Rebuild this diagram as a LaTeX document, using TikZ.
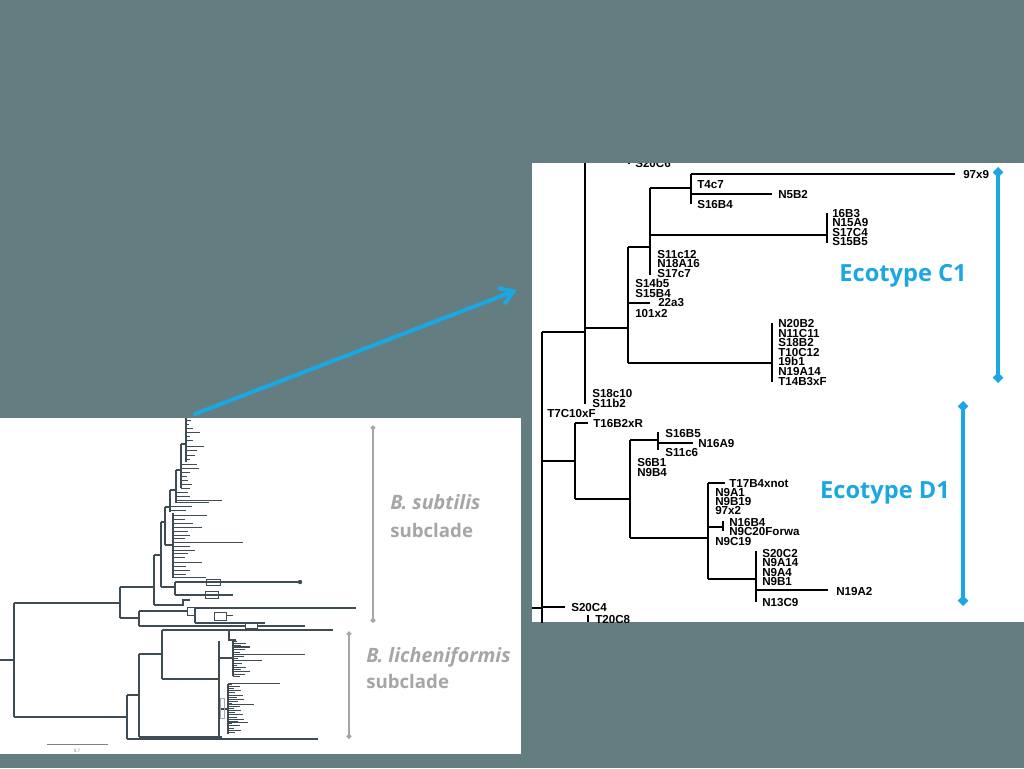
\documentclass[tikz,border=0pt]{standalone}
\usepackage{fontspec}
\newfontfamily\labfont{Liberation Sans}
\newfontfamily\osfont{Open Sans}
\usetikzlibrary{arrows.meta}
\definecolor{bg}{HTML}{647D80}
\definecolor{ecoblue}{HTML}{1AA7E4}
\definecolor{subgray}{HTML}{A6A6A6}
\definecolor{treegray}{HTML}{3E4C56}
\begin{document}
\begin{tikzpicture}[x=0.75pt,y=-0.75pt,
  rtree/.style={line width=1pt, black},
  ltree/.style={line width=1.4pt, treegray},
  ltip/.style={line width=0.7pt, treegray},
  taxon/.style={anchor=west, inner sep=0pt, text height=6.2pt, text depth=0pt, font=\labfont\bfseries\fontsize{8.7}{9}\selectfont},
  ecolabel/.style={font=\osfont\bfseries\fontsize{17.7}{20}\selectfont, text=ecoblue, inner sep=0pt},
  cladelabel/.style={anchor=west, inner sep=0pt, text=subgray, text height=10pt, text depth=0pt, font=\osfont\bfseries\fontsize{14}{16}\selectfont},
  ecobar/.style={line width=3pt, ecoblue, {Diamond[length=8pt,width=8pt]}-{Diamond[length=8pt,width=8pt]}},
  cladebar/.style={line width=1.5pt, subgray, {Diamond[length=4pt,width=4pt]}-{Diamond[length=4pt,width=4pt]}},
  bluearrow/.style={line width=3pt, ecoblue, line cap=round, -{Straight Barb[length=10pt,width=13pt]}},
]
\useasboundingbox (0,0) rectangle (1024,768);
\fill[bg] (0,0) rectangle (1024,768);

% ---------------- left panel ----------------
\fill[white] (0,418) rectangle (521,754);
% root and main branches
\draw[ltree] (0,660) -- (14,660);
\draw[ltree] (14,603) -- (14,717);
\draw[ltree] (14,603) -- (120,603);
\draw[ltree] (14,717) -- (127,717);
% subtilis part
\draw[ltree] (120,587) -- (120,618);
\draw[ltree] (120,587) -- (154,587);
\draw[ltree] (154,555) -- (154,605);
\draw[ltree] (154,605) -- (183,605) -- (183,600) -- (190,600);
\draw[ltree] (154,555) -- (161,555);
\draw[ltree] (161,522) -- (161,587);
\draw[ltree] (161,587) -- (175,587);
\draw[ltree] (175,582) -- (175,595);
\draw[ltree] (175,582) -- (300,582);
\fill[treegray] (300,582) circle (2.2);
\draw[ltree] (175,595) -- (233,595);
\draw[ltip] (205,591) rectangle (218,598);
\draw[ltip] (206,579) rectangle (220,585);
\draw[ltree] (161,522) -- (165,522);
\draw[ltree] (165,507) -- (165,545);
\draw[ltree] (165,545) -- (173,545);
\draw[ltree] (173,513) -- (173,578);
\draw[ltree] (165,507) -- (170,507);
\draw[ltree] (170,490) -- (170,512);
\draw[ltree] (170,490) -- (176,490);
\draw[ltree] (176,470) -- (176,503);
\draw[ltree] (176,470) -- (181,470);
\draw[ltree] (181,444) -- (181,488);
\draw[ltree] (181,444) -- (186,444);
\draw[ltree] (186,418) -- (186,462);
\foreach \y/\xs/\xe in {420/186/191, 424/186/189, 428/186/193, 432/186/200, 436/186/190,
  440/186/193, 446/186/204, 450/186/197, 455/186/195, 459/186/190,
  464/181/197, 468/181/199, 472/181/190, 476/181/187, 480/181/188, 484/181/192, 488/181/190,
  492/176/188, 496/176/190, 500/176/222, 502/176/209,
  506/170/192, 510/170/186,
  515/173/207, 519/173/185, 523/173/193, 527/173/202, 531/173/188, 535/173/190, 538/173/185,
  542/173/243, 546/173/190, 550/173/195, 553/173/188, 557/173/185, 562/173/202, 566/173/186,
  570/173/190, 574/173/186, 577/173/206}
  \draw[ltip] (\xs,\y) -- (\xe,\y);
% lower subtilis groups
\draw[ltree] (120,618) -- (139,618);
\draw[ltree] (139,611) -- (139,626);
\draw[ltree] (139,611) -- (187,611);
\draw[ltip] (187,607) rectangle (195,615);
\draw[ltree] (195,608) -- (195,623);
\draw[ltree] (195,608) -- (356,608);
\draw[ltree] (195,623) -- (265,623);
\draw[ltip] (214,612) rectangle (226,620);
\draw[ltip] (226,615) -- (233,615);
\draw[ltree] (139,626) -- (245,626);
\draw[ltip] (245,623) rectangle (257,628);
\draw[ltree] (257,626) -- (305,626);
% licheniformis part
\draw[ltree] (127,695) -- (127,739);
\draw[ltree] (127,739) -- (318,739);
\draw[ltree] (127,695) -- (139,695);
\draw[ltree] (139,654) -- (139,737);
\draw[ltree] (139,737) -- (222,737);
\draw[ltree] (139,654) -- (162,654);
\draw[ltree] (162,630) -- (162,679);
\draw[ltree] (162,630) -- (333,630);
\draw[ltree] (229,630) -- (229,640) -- (236,640);
\draw[ltree] (162,679) -- (219,679);
\draw[ltree] (219,641) -- (219,736);
\draw[ltree] (219,658) -- (233,658);
\draw[ltree] (233,641) -- (233,676);
\draw[ltree] (219,709) -- (228,709);
\draw[ltree] (228,684) -- (228,734);
\draw[subgray, line width=0.6pt] (220,698) rectangle (224,718);
\foreach \i in {0,...,16}
  \draw[ltip] (233,{641+2.2*\i}) -- ({233+4+mod(\i*7,11)*1.3},{641+2.2*\i});
\foreach \i in {0,...,22}
  \draw[ltip] (228,{684+2.2*\i}) -- ({228+4+mod(\i*5,9)*1.5},{684+2.2*\i});
\draw[ltip] (233,654) -- (305,654);
\draw[ltip] (233,660) -- (262,660);
\draw[ltip] (233,646) -- (250,646);
\draw[ltip] (228,683) -- (280,683);
\draw[ltip] (228,704) -- (254,704);
\draw[ltip] (228,722) -- (248,722);
% scale bar
\draw[gray, line width=0.5pt] (47,744) -- (108,744);
\node[inner sep=0pt, text=gray, font=\labfont\fontsize{3.5}{4}\selectfont] (scale) at (77,751) {0.7};

% clade bars and labels
\coordinate (subT) at (373,425);
\coordinate (subB) at (373,623);
\coordinate (licT) at (349,631);
\coordinate (licB) at (349,739);
\draw[cladebar] (subT) -- (subB);
\draw[cladebar] (licT) -- (licB);
\node[cladelabel, font=\osfont\bfseries\itshape\fontsize{14.8}{16}\selectfont] (bsub) at (390,503) {B. subtilis};
\node[cladelabel] (bsub2) at (390,531) {subclade};
\node[cladelabel, font=\osfont\bfseries\itshape\fontsize{14.8}{16}\selectfont] (blic) at (366,655.5) {B. licheniformis};
\node[cladelabel] (blic2) at (366,682) {subclade};

% ---------------- right panel ----------------
\fill[white] (532,163) rectangle (1024,622);
\begin{scope}
\clip (532,163) rectangle (1024,622);
\draw[rtree] (585,150) -- (585,404);
\draw[rtree] (542,332) -- (585,332);
\draw[rtree] (542,332) -- (542,630);
\draw[rtree] (585,328) -- (628,328);
\draw[rtree] (628,247) -- (628,363);
\draw[rtree] (628,363) -- (772,363);
\draw[rtree] (772,323) -- (772,382);
\draw[rtree] (628,247) -- (650,247);
\draw[rtree] (650,188) -- (650,275);
\draw[rtree] (628,303) -- (650,303);
\draw[rtree] (650,188) -- (691,188);
\draw[rtree] (691,174) -- (691,204);
\draw[rtree] (691,174) -- (955,174);
\draw[rtree] (691,194) -- (772,194);
\draw[rtree] (650,235) -- (827,235);
\draw[rtree] (827,213) -- (827,243);
\draw[rtree] (629,158) -- (629,164);
\draw[rtree] (542,461) -- (575,461);
\draw[rtree] (575,423) -- (575,499);
\draw[rtree] (575,423) -- (588,423);
\draw[rtree] (575,499) -- (630,499);
\draw[rtree] (630,440) -- (630,538);
\draw[rtree] (630,440) -- (658,440);
\draw[rtree] (658,432) -- (658,450);
\draw[rtree] (658,443) -- (693,443);
\draw[rtree] (630,538) -- (708,538);
\draw[rtree] (708,483) -- (708,579);
\draw[rtree] (708,483) -- (725,483);
\draw[rtree] (708,527) -- (723,527);
\draw[rtree] (723,521) -- (723,531);
\draw[rtree] (708,579) -- (756,579);
\draw[rtree] (756,551) -- (756,602);
\draw[rtree] (756,590) -- (828,590);
\draw[rtree] (532,608) -- (542,608);
\draw[rtree] (542,607) -- (565,607);
\draw[rtree] (588,615) -- (588,622);
\foreach \x/\y/\t [count=\i] in {
  635/163/S20C6, 963/174/97x9, 697/184/T4c7, 778/194/N5B2, 697/204/S16B4,
  832/213/16B3, 832/222.5/N15A9, 832/232/S17C4, 832/241.5/S15B5,
  657/254/S11c12, 657/263.5/N18A16, 657/273/S17c7,
  635/283/S14b5, 635/293/S15B4, 658/302/22a3, 635/313/101x2,
  778/323.5/N20B2, 778/333/N11C11, 778/342.5/S18B2, 778/352/T10C12, 778/361.5/19b1, 778/371.5/N19A14, 778/381/T14B3xF,
  592/393/S18c10, 592/403/S11b2, 547/413/T7C10xF, 593/423/T16B2xR,
  665/433/S16B5, 698/443/N16A9, 665/452/S11c6, 637/462/S6B1, 637/472/N9B4,
  729/483/T17B4xnot, 715/492/N9A1, 715/501/N9B19, 715/510.5/97x2, 729/522/N16B4, 729/531.5/N9C20Forwa, 715/541/N9C19,
  762/553/S20C2, 762/562/N9A14, 762/572/N9A4, 762/581/N9B1, 836/591/N19A2, 762/602/N13C9,
  571/607/S20C4, 595/619/T20C8}
  \node[taxon] (tx\i) at (\x,\y) {\t};
\end{scope}

% ecotype bars and labels
\coordinate (c1T) at (998,167);
\coordinate (c1B) at (998,383);
\coordinate (d1T) at (963,401);
\coordinate (d1B) at (963,606);
\draw[ecobar] (c1T) -- (c1B);
\draw[ecobar] (d1T) -- (d1B);
\node[ecolabel] (ecoC) at (903,276) {Ecotype C1};
\node[ecolabel] (ecoD) at (885,493) {Ecotype D1};

% blue arrow
\coordinate (arrS) at (195,414);
\coordinate (arrE) at (517,290);
\draw[bluearrow] (arrS) -- (arrE);
\end{tikzpicture}
\end{document}
